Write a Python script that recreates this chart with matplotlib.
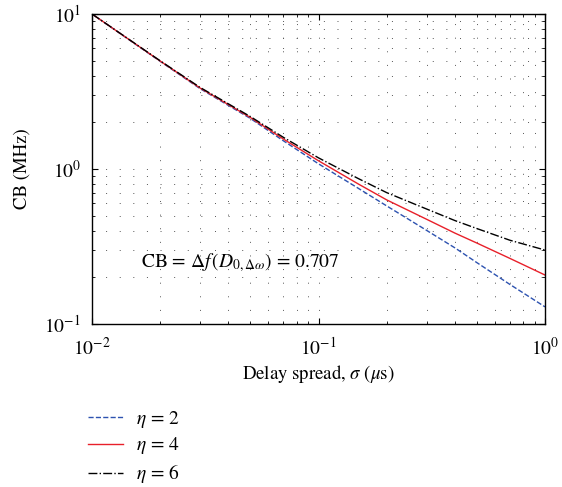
import matplotlib
matplotlib.use("Agg")
import matplotlib.pyplot as plt
from matplotlib.ticker import LogLocator, NullFormatter

plt.rcParams['font.family'] = ['STIXGeneral', 'DejaVu Serif']
plt.rcParams['mathtext.fontset'] = 'stix'
plt.rcParams['font.size'] = 13

# delay spread (us)
SIGMA = [0.01, 0.02, 0.03, 0.05, 0.07, 0.1, 0.15, 0.2, 0.3, 0.4, 0.5, 0.7, 1.0]
# coherence bandwidth (MHz) for each eta
CB_ETA2 = [10.0, 4.95, 3.30, 2.12, 1.52, 1.08, 0.75, 0.578, 0.402, 0.31, 0.249, 0.180, 0.129]
CB_ETA4 = [10.0, 4.97, 3.33, 2.15, 1.56, 1.13, 0.80, 0.632, 0.474, 0.386, 0.333, 0.265, 0.207]
CB_ETA6 = [10.0, 4.99, 3.36, 2.18, 1.60, 1.18, 0.867, 0.704, 0.552, 0.465, 0.413, 0.347, 0.30]
LABELS = [r"$\eta$ = 2", r"$\eta$ = 4", r"$\eta$ = 6"]


def main():
    fig = plt.figure(figsize=(5.62, 4.87), dpi=100)
    ax = fig.add_axes([92 / 562, 1 - 324 / 487, 453 / 562, 310 / 487])

    ax.loglog(SIGMA, CB_ETA2, '--', color='#2d52b0', lw=1.0, label=LABELS[0])
    ax.loglog(SIGMA, CB_ETA4, '-', color='#e8202a', lw=1.0, label=LABELS[1])
    ax.loglog(SIGMA, CB_ETA6, '-.', color='black', lw=1.0, label=LABELS[2])

    ax.set_xlim(0.01, 1)
    ax.set_ylim(0.1, 10)
    ax.xaxis.set_minor_locator(LogLocator(base=10, subs=range(2, 10)))
    ax.yaxis.set_minor_locator(LogLocator(base=10, subs=range(2, 10)))
    ax.xaxis.set_minor_formatter(NullFormatter())
    ax.yaxis.set_minor_formatter(NullFormatter())
    ax.tick_params(which='major', direction='in', top=True, right=True, length=4, labelsize=14)
    ax.tick_params(axis='x', which='major', pad=9)
    ax.tick_params(axis='y', which='major', pad=8)
    ax.tick_params(which='minor', direction='in', top=True, right=True, length=2, width=0.6)
    ax.grid(True, which='both', color='#555555', lw=0.7, linestyle=(0, (1, 13)))
    for s in ax.spines.values():
        s.set_linewidth(1.0)

    ax.set_xlabel(r"Delay spread, $\sigma$ ($\mu$s)", fontsize=13.5, labelpad=3)
    ax.set_ylabel("CB (MHz)", fontsize=13.5, labelpad=10)

    ax.text(0.0165, 0.248, r"CB = $\Delta f\,(D_{0,\Delta\omega})$ = 0.707", fontsize=14,
            ha='left', va='center')

    fig.legend(loc='upper left', bbox_to_anchor=(76 / 562, 1 - 397 / 487), frameon=False,
               handlelength=1.8, handletextpad=0.7, labelspacing=0.3, fontsize=14,
               borderaxespad=0.2)

    fig.savefig("out.png", dpi=100)


if __name__ == "__main__":
    main()
